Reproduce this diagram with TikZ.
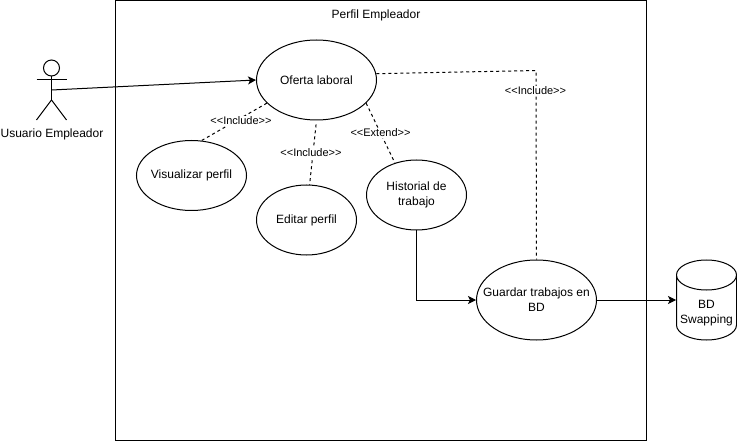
\documentclass[tikz,border=0pt]{standalone}
\usepackage{fontspec}
\setmainfont{Liberation Sans}
\usetikzlibrary{shapes.geometric,arrows.meta}
\tikzset{usecase/.style={ellipse,draw,inner sep=-20pt,align=center,font=\fontsize{12}{15}\selectfont},
  rel/.style={fill=white,inner sep=0.5pt,font=\fontsize{11}{13}\selectfont},
  plain/.style={font=\fontsize{12}{15}\selectfont},
  tip/.style={>={Stealth[length=8pt,width=8pt,inset=2pt]}}}

\begin{document}
\begin{tikzpicture}[x=1pt,y=-1pt,line width=1pt]
\useasboundingbox (0,0) rectangle (737,441);
\node[draw,minimum width=531,minimum height=440,inner sep=0] (F) at (381,220.3) {};
\node[plain] (T) at (376,15.5) {Perfil Empleador};

\node[usecase,minimum width=120,minimum height=80] (U1) at (316.5,80) {Oferta laboral};
\node[usecase,minimum width=110,minimum height=70] (U2) at (191.5,175.5) {Visualizar perfil};
\node[usecase,minimum width=100,minimum height=70] (U3) at (306.5,220) {Editar perfil};
\node[usecase,minimum width=100,minimum height=70] (U4) at (416.5,195) {Historial de\\trabajo};
\node[usecase,minimum width=120,minimum height=80] (U5) at (536.5,300) {Guardar trabajos en\\BD};
\node[cylinder,draw,shape border rotate=90,aspect=0.5,minimum width=60,minimum height=80,inner sep=0,anchor=shape center] (D1) at (706.5,300) {\hspace*{60pt}};
\node[plain,align=center] (D2) at (706.5,313) {BD\\Swapping};

% actor
\node[circle,draw,minimum size=16,inner sep=0] (H) at (51.5,68) {};
\coordinate (N) at (51.5,90);
\coordinate (P) at (51.5,100);
\coordinate (AL) at (36.5,80);
\coordinate (AR) at (66.5,80);
\coordinate (LL) at (36.5,120);
\coordinate (LR) at (66.5,120);
\draw (H.south) -- (P);
\draw (AL) -- (AR);
\draw (LL) -- (P) -- (LR);
\node[plain] (A) at (52,134) {Usuario Empleador};

\path[->,tip] (N) edge [] node[]{} (U1.west);
\path[->,tip] (U5.east) edge [] node[]{} (U5.east -| D1.west);
\draw[->,tip] (U4.south) |- (U5.west);

\draw[dashed] (U1.205) -- (U2.74);
\draw[dashed,shorten <=4pt] (U1.south) -- (U3.85);
\draw[dashed] (U1.6) -- (536,70.5) -- (U5.north);
\draw[dashed] (U1.335) -- (U4.124);

\node[rel] (L1) at (241,121) {<{}<Include>{}>};
\node[rel] (L2) at (311,153) {<{}<Include>{}>};
\node[rel] (L3) at (380.5,133) {<{}<Extend>{}>};
\node[rel] (L4) at (535.5,91) {<{}<Include>{}>};
\end{tikzpicture}
\end{document}
